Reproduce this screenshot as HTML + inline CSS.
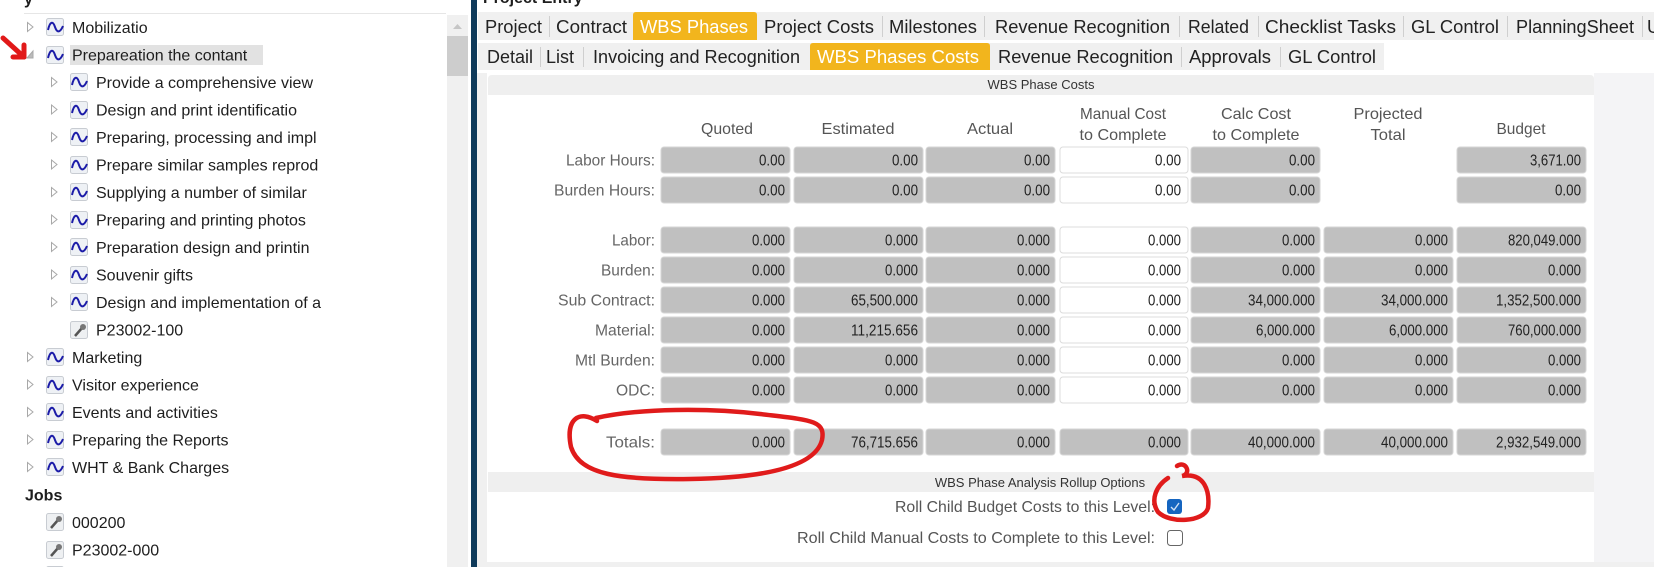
<!DOCTYPE html>
<html><head><meta charset="utf-8"><style>
html,body{margin:0;padding:0;background:#fff;width:1654px;height:567px;overflow:hidden}
svg{display:block}
.tr{font-family:"Liberation Sans",sans-serif;font-size:16px;fill:#1e1e1e}
.tb{font-family:"Liberation Sans Narrow","Liberation Sans",sans-serif;font-size:18px;fill:#222}
.hd{font-family:"Liberation Sans Narrow","Liberation Sans",sans-serif;font-size:16px;fill:#555;text-anchor:middle}
.lb{font-family:"Liberation Sans Narrow","Liberation Sans",sans-serif;font-size:16px;fill:#666;text-anchor:end}
.v{font-family:"Liberation Sans Narrow","Liberation Sans",sans-serif;font-size:16px;fill:#222;text-anchor:end}
.sm{font-family:"Liberation Sans Narrow","Liberation Sans",sans-serif;font-size:13px;fill:#333;text-anchor:middle}
.c{fill:#c0c0c0;stroke:#d6d6d6;stroke-width:1}
.w{fill:#fff;stroke:#dcdcdc;stroke-width:1}
</style></head><body>
<svg width="1654" height="567" viewBox="0 0 1654 567" xmlns="http://www.w3.org/2000/svg">
<defs>
<g id="wi"><rect x="0.5" y="0.5" width="17" height="17" rx="2" fill="#eef1f5" stroke="#c8ccd2"/><path d="M2 12 C4 3,7 3,9 9 S14 15,17 8" fill="none" stroke="#1c1ca8" stroke-width="2"/></g>
<g id="ji"><rect x="0.5" y="0.5" width="17" height="17" rx="2" fill="#eef0f2" stroke="#c8ccd2"/><path d="M5 15 L12 7" stroke="#555" stroke-width="2.5"/><circle cx="13" cy="6" r="3" fill="#777"/></g>
</defs>
<rect x="0" y="0" width="471" height="567" fill="#fff"/>
<text x="24" y="4" class="tr" style="font-weight:bold">y</text>
<line x1="24" y1="13.5" x2="446" y2="13.5" stroke="#e6e6e6"/>
<rect x="447" y="15" width="21" height="552" fill="#f0f0f0"/>
<path d="M453 29 L457.5 24 L462 29Z" fill="#c6c6c6"/>
<rect x="447" y="36" width="21" height="40" fill="#cdcdcd"/>
<rect x="70" y="45" width="193" height="20" fill="#e2e2e2"/>
<g fill="none" stroke="#a8a8a8" stroke-width="1">
<path d="M27.5 22.5 L33 27 L27.5 31.5Z"/>
<path d="M33 51 L33 58 L27 58Z" fill="#bbb"/>
</g>
<g fill="none" stroke="#a8a8a8">
<path d="M51.5 77.5 L57 82 L51.5 86.5Z"/><path d="M51.5 105 L57 109.5 L51.5 114Z"/><path d="M51.5 132.5 L57 137 L51.5 141.5Z"/><path d="M51.5 160 L57 164.5 L51.5 169Z"/><path d="M51.5 187.5 L57 192 L51.5 196.5Z"/><path d="M51.5 215 L57 219.5 L51.5 224Z"/><path d="M51.5 242.5 L57 247 L51.5 251.5Z"/><path d="M51.5 270 L57 274.5 L51.5 279Z"/><path d="M51.5 297.5 L57 302 L51.5 306.5Z"/>
<path d="M27.5 352.5 L33 357 L27.5 361.5Z"/><path d="M27.5 380 L33 384.5 L27.5 389Z"/><path d="M27.5 407.5 L33 412 L27.5 416.5Z"/><path d="M27.5 435 L33 439.5 L27.5 444Z"/><path d="M27.5 462.5 L33 467 L27.5 471.5Z"/>
</g>
<use href="#wi" x="46" y="18"/><use href="#wi" x="46" y="46"/>
<use href="#wi" x="70" y="73"/><use href="#wi" x="70" y="101"/><use href="#wi" x="70" y="128"/><use href="#wi" x="70" y="156"/><use href="#wi" x="70" y="183"/><use href="#wi" x="70" y="211"/><use href="#wi" x="70" y="238"/><use href="#wi" x="70" y="266"/><use href="#wi" x="70" y="293"/>
<use href="#ji" x="70" y="321"/>
<use href="#wi" x="46" y="348"/><use href="#wi" x="46" y="376"/><use href="#wi" x="46" y="403"/><use href="#wi" x="46" y="431"/><use href="#wi" x="46" y="458"/>
<use href="#ji" x="46" y="513"/><use href="#ji" x="46" y="541"/><use href="#ji" x="46" y="566"/>
<text class="tr" x="72" y="33">Mobilizatio</text>
<text class="tr" x="72" y="60.5">Prepareation the contant</text>
<text class="tr" x="96" y="88">Provide a comprehensive view</text>
<text class="tr" x="96" y="115.5">Design and print identificatio</text>
<text class="tr" x="96" y="143">Preparing, processing and impl</text>
<text class="tr" x="96" y="170.5">Prepare similar samples reprod</text>
<text class="tr" x="96" y="198">Supplying a number of similar</text>
<text class="tr" x="96" y="225.5">Preparing and printing photos</text>
<text class="tr" x="96" y="253">Preparation design and printin</text>
<text class="tr" x="96" y="280.5">Souvenir gifts</text>
<text class="tr" x="96" y="308">Design and implementation of a</text>
<text class="tr" x="96" y="335.5">P23002-100</text>
<text class="tr" x="72" y="363">Marketing</text>
<text class="tr" x="72" y="390.5">Visitor experience</text>
<text class="tr" x="72" y="418">Events and activities</text>
<text class="tr" x="72" y="445.5">Preparing the Reports</text>
<text class="tr" x="72" y="473">WHT &amp; Bank Charges</text>
<text class="tr" x="25" y="500.5" style="font-weight:bold">Jobs</text>
<text class="tr" x="72" y="528">000200</text>
<text class="tr" x="72" y="555.5">P23002-000</text>
<g stroke="#e11919" stroke-width="5" fill="none" stroke-linecap="round" stroke-linejoin="round">
<path d="M3 38 L24 57"/><path d="M24 57 L24 45"/><path d="M24 57 L13 57"/>
</g>
<rect x="471" y="0" width="6" height="567" fill="#0f3a5a"/>
<rect x="477" y="0" width="1177" height="567" fill="#fff"/>
<text x="483" y="3" class="tr" style="font-weight:bold">Project Entry</text>
<rect x="478" y="12" width="1176" height="28" fill="#f0f0f0"/>
<path d="M633 40 V15 Q633 12 636 12 H754 Q757 12 757 15 V40Z" fill="#f2b51d"/>
<g stroke="#cfcfcf"><line x1="549.5" y1="16" x2="549.5" y2="37"/><line x1="882.5" y1="16" x2="882.5" y2="37"/><line x1="984.5" y1="16" x2="984.5" y2="37"/><line x1="1179.5" y1="16" x2="1179.5" y2="37"/><line x1="1258.5" y1="16" x2="1258.5" y2="37"/><line x1="1403.5" y1="16" x2="1403.5" y2="37"/><line x1="1507.5" y1="16" x2="1507.5" y2="37"/><line x1="1642.5" y1="16" x2="1642.5" y2="37"/></g>
<text class="tb" x="485" y="33" textLength="57" lengthAdjust="spacingAndGlyphs">Project</text>
<text class="tb" x="556" y="33" textLength="71" lengthAdjust="spacingAndGlyphs">Contract</text>
<text class="tb" x="640" y="33" textLength="108" lengthAdjust="spacingAndGlyphs" style="fill:#fff">WBS Phases</text>
<text class="tb" x="764" y="33" textLength="110" lengthAdjust="spacingAndGlyphs">Project Costs</text>
<text class="tb" x="889" y="33" textLength="88" lengthAdjust="spacingAndGlyphs">Milestones</text>
<text class="tb" x="995" y="33" textLength="175" lengthAdjust="spacingAndGlyphs">Revenue Recognition</text>
<text class="tb" x="1188" y="33" textLength="61" lengthAdjust="spacingAndGlyphs">Related</text>
<text class="tb" x="1265" y="33" textLength="131" lengthAdjust="spacingAndGlyphs">Checklist Tasks</text>
<text class="tb" x="1411" y="33" textLength="88" lengthAdjust="spacingAndGlyphs">GL Control</text>
<text class="tb" x="1516" y="33" textLength="118" lengthAdjust="spacingAndGlyphs">PlanningSheet</text>
<text class="tb" x="1647" y="33">U</text>
<rect x="478" y="43" width="906" height="27" fill="#f0f0f0"/>
<path d="M810 70 V46 Q810 43 813 43 H987 Q990 43 990 46 V70Z" fill="#f2b51d"/>
<g stroke="#cfcfcf"><line x1="540.5" y1="47" x2="540.5" y2="67"/><line x1="583.5" y1="47" x2="583.5" y2="67"/><line x1="1181.5" y1="47" x2="1181.5" y2="67"/><line x1="1280.5" y1="47" x2="1280.5" y2="67"/></g>
<text class="tb" x="487" y="63" textLength="46" lengthAdjust="spacingAndGlyphs">Detail</text>
<text class="tb" x="546" y="63" textLength="28" lengthAdjust="spacingAndGlyphs">List</text>
<text class="tb" x="593" y="63" textLength="207" lengthAdjust="spacingAndGlyphs">Invoicing and Recognition</text>
<text class="tb" x="817" y="63" textLength="162" lengthAdjust="spacingAndGlyphs" style="fill:#fff">WBS Phases Costs</text>
<text class="tb" x="998" y="63" textLength="175" lengthAdjust="spacingAndGlyphs">Revenue Recognition</text>
<text class="tb" x="1189" y="63" textLength="82" lengthAdjust="spacingAndGlyphs">Approvals</text>
<text class="tb" x="1288" y="63" textLength="88" lengthAdjust="spacingAndGlyphs">GL Control</text>
<rect x="477" y="73" width="10" height="494" fill="#f0f0f0"/>
<rect x="1594" y="73" width="60" height="494" fill="#f4f4f6"/>
<rect x="477" y="562" width="1177" height="5" fill="#f0f0f0"/>
<path d="M488 95 V79 Q488 75 492 75 H1590 Q1594 75 1594 79 V95Z" fill="#efefef"/>
<text class="sm" x="1041" y="89">WBS Phase Costs</text>
<text class="hd" x="727" y="134" textLength="52" lengthAdjust="spacingAndGlyphs">Quoted</text>
<text class="hd" x="858" y="134" textLength="73" lengthAdjust="spacingAndGlyphs">Estimated</text>
<text class="hd" x="990" y="134" textLength="46" lengthAdjust="spacingAndGlyphs">Actual</text>
<text class="hd" x="1123" y="119" textLength="86" lengthAdjust="spacingAndGlyphs">Manual Cost</text>
<text class="hd" x="1123" y="140" textLength="87" lengthAdjust="spacingAndGlyphs">to Complete</text>
<text class="hd" x="1256" y="119" textLength="70" lengthAdjust="spacingAndGlyphs">Calc Cost</text>
<text class="hd" x="1256" y="140" textLength="87" lengthAdjust="spacingAndGlyphs">to Complete</text>
<text class="hd" x="1388" y="119" textLength="69" lengthAdjust="spacingAndGlyphs">Projected</text>
<text class="hd" x="1388" y="140" textLength="35" lengthAdjust="spacingAndGlyphs">Total</text>
<text class="hd" x="1521" y="134" textLength="49" lengthAdjust="spacingAndGlyphs">Budget</text>
<text class="lb" x="655" y="165.5" textLength="89" lengthAdjust="spacingAndGlyphs">Labor Hours:</text>
<text class="lb" x="655" y="195.5" textLength="101" lengthAdjust="spacingAndGlyphs">Burden Hours:</text>
<text class="lb" x="655" y="245.5" textLength="43" lengthAdjust="spacingAndGlyphs">Labor:</text>
<text class="lb" x="655" y="275.5" textLength="54" lengthAdjust="spacingAndGlyphs">Burden:</text>
<text class="lb" x="655" y="305.5" textLength="97" lengthAdjust="spacingAndGlyphs">Sub Contract:</text>
<text class="lb" x="655" y="335.5" textLength="60" lengthAdjust="spacingAndGlyphs">Material:</text>
<text class="lb" x="655" y="365.5" textLength="80" lengthAdjust="spacingAndGlyphs">Mtl Burden:</text>
<text class="lb" x="655" y="395.5" textLength="39" lengthAdjust="spacingAndGlyphs">ODC:</text>
<text class="lb" x="655" y="447.5" textLength="49" lengthAdjust="spacingAndGlyphs">Totals:</text>
<g>
<rect class="c" x="661" y="147" width="129" height="26" rx="3"/><rect class="c" x="794" y="147" width="129" height="26" rx="3"/><rect class="c" x="926" y="147" width="129" height="26" rx="3"/><rect class="w" x="1060" y="147" width="128" height="26" rx="3"/><rect class="c" x="1191" y="147" width="129" height="26" rx="3"/><rect class="c" x="1457" y="147" width="129" height="26" rx="3"/>
<rect class="c" x="661" y="177" width="129" height="26" rx="3"/><rect class="c" x="794" y="177" width="129" height="26" rx="3"/><rect class="c" x="926" y="177" width="129" height="26" rx="3"/><rect class="w" x="1060" y="177" width="128" height="26" rx="3"/><rect class="c" x="1191" y="177" width="129" height="26" rx="3"/><rect class="c" x="1457" y="177" width="129" height="26" rx="3"/>
</g>
<g id="r227"><rect class="c" x="661" y="227" width="129" height="26" rx="3"/><rect class="c" x="794" y="227" width="129" height="26" rx="3"/><rect class="c" x="926" y="227" width="129" height="26" rx="3"/><rect class="w" x="1060" y="227" width="128" height="26" rx="3"/><rect class="c" x="1191" y="227" width="129" height="26" rx="3"/><rect class="c" x="1324" y="227" width="129" height="26" rx="3"/><rect class="c" x="1457" y="227" width="129" height="26" rx="3"/></g>
<use href="#r227" y="30"/><use href="#r227" y="60"/><use href="#r227" y="90"/><use href="#r227" y="120"/><use href="#r227" y="150"/>
<g><rect class="c" x="661" y="429" width="129" height="26" rx="3"/><rect class="c" x="794" y="429" width="129" height="26" rx="3"/><rect class="c" x="926" y="429" width="129" height="26" rx="3"/><rect class="c" x="1060" y="429" width="128" height="26" rx="3"/><rect class="c" x="1191" y="429" width="129" height="26" rx="3"/><rect class="c" x="1324" y="429" width="129" height="26" rx="3"/><rect class="c" x="1457" y="429" width="129" height="26" rx="3"/></g>
<g>
<text class="v" x="785" y="165.5" textLength="26" lengthAdjust="spacingAndGlyphs">0.00</text><text class="v" x="918" y="165.5" textLength="26" lengthAdjust="spacingAndGlyphs">0.00</text><text class="v" x="1050" y="165.5" textLength="26" lengthAdjust="spacingAndGlyphs">0.00</text><text class="v" x="1181" y="165.5" textLength="26" lengthAdjust="spacingAndGlyphs">0.00</text><text class="v" x="1315" y="165.5" textLength="26" lengthAdjust="spacingAndGlyphs">0.00</text><text class="v" x="1581" y="165.5" textLength="51" lengthAdjust="spacingAndGlyphs">3,671.00</text>
<text class="v" x="785" y="195.5" textLength="26" lengthAdjust="spacingAndGlyphs">0.00</text><text class="v" x="918" y="195.5" textLength="26" lengthAdjust="spacingAndGlyphs">0.00</text><text class="v" x="1050" y="195.5" textLength="26" lengthAdjust="spacingAndGlyphs">0.00</text><text class="v" x="1181" y="195.5" textLength="26" lengthAdjust="spacingAndGlyphs">0.00</text><text class="v" x="1315" y="195.5" textLength="26" lengthAdjust="spacingAndGlyphs">0.00</text><text class="v" x="1581" y="195.5" textLength="26" lengthAdjust="spacingAndGlyphs">0.00</text>
</g>
<g id="z245">
<text class="v" x="785" y="245.5" textLength="33" lengthAdjust="spacingAndGlyphs">0.000</text><text class="v" x="1050" y="245.5" textLength="33" lengthAdjust="spacingAndGlyphs">0.000</text><text class="v" x="1181" y="245.5" textLength="33" lengthAdjust="spacingAndGlyphs">0.000</text>
</g>
<use href="#z245" y="30"/><use href="#z245" y="60"/><use href="#z245" y="90"/><use href="#z245" y="120"/><use href="#z245" y="150"/><use href="#z245" y="202"/>
<text class="v" x="918" y="245.5" textLength="33" lengthAdjust="spacingAndGlyphs">0.000</text><text class="v" x="1315" y="245.5" textLength="33" lengthAdjust="spacingAndGlyphs">0.000</text><text class="v" x="1448" y="245.5" textLength="33" lengthAdjust="spacingAndGlyphs">0.000</text><text class="v" x="1581" y="245.5" textLength="73" lengthAdjust="spacingAndGlyphs">820,049.000</text>
<text class="v" x="918" y="275.5" textLength="33" lengthAdjust="spacingAndGlyphs">0.000</text><text class="v" x="1315" y="275.5" textLength="33" lengthAdjust="spacingAndGlyphs">0.000</text><text class="v" x="1448" y="275.5" textLength="33" lengthAdjust="spacingAndGlyphs">0.000</text><text class="v" x="1581" y="275.5" textLength="33" lengthAdjust="spacingAndGlyphs">0.000</text>
<text class="v" x="918" y="305.5" textLength="67" lengthAdjust="spacingAndGlyphs">65,500.000</text><text class="v" x="1315" y="305.5" textLength="67" lengthAdjust="spacingAndGlyphs">34,000.000</text><text class="v" x="1448" y="305.5" textLength="67" lengthAdjust="spacingAndGlyphs">34,000.000</text><text class="v" x="1581" y="305.5" textLength="85" lengthAdjust="spacingAndGlyphs">1,352,500.000</text>
<text class="v" x="918" y="335.5" textLength="67" lengthAdjust="spacingAndGlyphs">11,215.656</text><text class="v" x="1315" y="335.5" textLength="59" lengthAdjust="spacingAndGlyphs">6,000.000</text><text class="v" x="1448" y="335.5" textLength="59" lengthAdjust="spacingAndGlyphs">6,000.000</text><text class="v" x="1581" y="335.5" textLength="73" lengthAdjust="spacingAndGlyphs">760,000.000</text>
<text class="v" x="918" y="365.5" textLength="33" lengthAdjust="spacingAndGlyphs">0.000</text><text class="v" x="1315" y="365.5" textLength="33" lengthAdjust="spacingAndGlyphs">0.000</text><text class="v" x="1448" y="365.5" textLength="33" lengthAdjust="spacingAndGlyphs">0.000</text><text class="v" x="1581" y="365.5" textLength="33" lengthAdjust="spacingAndGlyphs">0.000</text>
<text class="v" x="918" y="395.5" textLength="33" lengthAdjust="spacingAndGlyphs">0.000</text><text class="v" x="1315" y="395.5" textLength="33" lengthAdjust="spacingAndGlyphs">0.000</text><text class="v" x="1448" y="395.5" textLength="33" lengthAdjust="spacingAndGlyphs">0.000</text><text class="v" x="1581" y="395.5" textLength="33" lengthAdjust="spacingAndGlyphs">0.000</text>
<text class="v" x="918" y="447.5" textLength="67" lengthAdjust="spacingAndGlyphs">76,715.656</text><text class="v" x="1315" y="447.5" textLength="67" lengthAdjust="spacingAndGlyphs">40,000.000</text><text class="v" x="1448" y="447.5" textLength="67" lengthAdjust="spacingAndGlyphs">40,000.000</text><text class="v" x="1581" y="447.5" textLength="85" lengthAdjust="spacingAndGlyphs">2,932,549.000</text>
<rect x="488" y="472" width="1106" height="20" fill="#efefef"/>
<text class="sm" x="1040" y="487">WBS Phase Analysis Rollup Options</text>
<text class="lb" x="1155" y="512" style="fill:#555" textLength="260" lengthAdjust="spacingAndGlyphs">Roll Child Budget Costs to this Level:</text>
<rect x="1167" y="499" width="15" height="15" rx="3" fill="#1565c0"/>
<path d="M1171 507 L1174 510 L1179 503" fill="none" stroke="#cfe0f5" stroke-width="1.4"/>
<text class="lb" x="1155" y="543" style="fill:#555" textLength="358" lengthAdjust="spacingAndGlyphs">Roll Child Manual Costs to Complete to this Level:</text>
<rect x="1167.5" y="530.5" width="15" height="15" rx="3" fill="#fff" stroke="#666"/>
<g stroke="#e01b1b" stroke-width="4.5" fill="none" stroke-linecap="round">
<path d="M597 421 C580 410,565 418,571 447 C580 475,620 480,690 479 C760 478,815 468,822 440 C826 420,810 420,760 414 C710 408,640 408,596 418"/>
<path d="M1177 466 C1186 460,1192 474,1182 476 C1205 472,1210 492,1208 508 C1204 522,1170 524,1158 512 C1150 500,1156 486,1168 478"/>
</g>
</svg>
</body></html>
